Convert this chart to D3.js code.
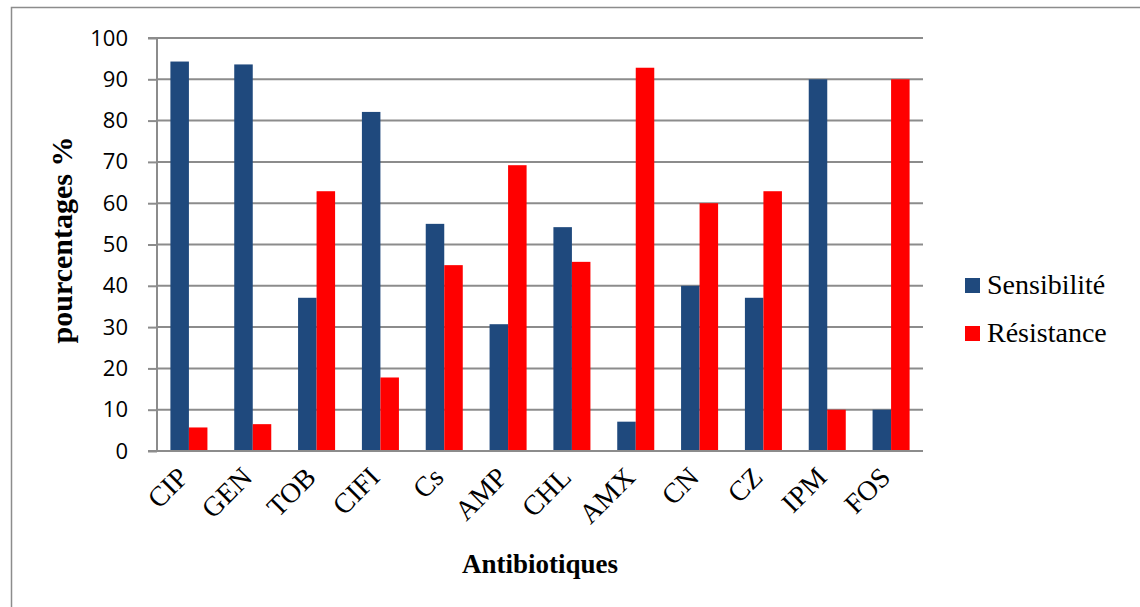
<!DOCTYPE html>
<html>
<head>
<meta charset="utf-8">
<script src="https://cdn.jsdelivr.net/npm/d3@7"></script>
<style>
  html, body { margin: 0; padding: 0; background: #fff; }
  svg { display: block; }
</style>
</head>
<body>
<svg id="chart" width="1140" height="607"></svg>
<script>
// Antibiotic susceptibility profile (% sensitive vs % resistant)
const categories = ["CIP", "GEN", "TOB", "CIFI", "Cs", "AMP", "CHL", "AMX", "CN", "CZ", "IPM", "FOS"];
const sensibilite = [94.3, 93.6, 37.1, 82.1, 55.0, 30.7, 54.2, 7.1, 40.0, 37.1, 90.0, 10.0];
const resistance  = [5.7, 6.5, 62.9, 17.8, 45.0, 69.2, 45.8, 92.8, 60.0, 62.9, 10.0, 90.0];
const seriesNames = ["Sensibilité", "Résistance"];
const seriesColors = ["#1F497D", "#FF0000"];
const yTicks = [0, 10, 20, 30, 40, 50, 60, 70, 80, 90, 100];

const svg = d3.select("#chart");
const W = 1140, H = 607;
const plot = { left: 157, right: 923, top: 38, bottom: 451 };
const gridColor = "#8c8c8c";
const serif = "'Liberation Serif', 'Times New Roman', serif";

svg.append("rect").attr("width", W).attr("height", H).attr("fill", "#fff");

// outer chart-area frame (runs off the right and bottom edges)
svg.append("rect")
  .attr("x", 11.5).attr("y", 7.5)
  .attr("width", W + 20).attr("height", H + 20)
  .attr("fill", "none").attr("stroke", "#8c8c8c").attr("stroke-width", 1.5);

const x0 = d3.scaleBand().domain(categories)
  .range([plot.left, plot.right]).paddingInner(0.42).paddingOuter(0.21);
const x1 = d3.scaleBand().domain(seriesNames).range([0, x0.bandwidth()]);
const y = d3.scaleLinear().domain([0, 100]).range([plot.bottom, plot.top]);

// horizontal gridlines
svg.append("g").selectAll("line").data(yTicks.filter(d => d > 0)).join("line")
  .attr("x1", plot.left).attr("x2", plot.right)
  .attr("y1", d => y(d)).attr("y2", d => y(d))
  .attr("stroke", gridColor).attr("stroke-width", 2);

// bars
const rows = categories.map((c, i) => ({ cat: c, vals: [sensibilite[i], resistance[i]] }));
const groups = svg.append("g").selectAll("g").data(rows).join("g")
  .attr("transform", d => `translate(${x0(d.cat)},0)`);
groups.selectAll("rect")
  .data(d => d.vals.map((v, k) => ({ name: seriesNames[k], v, k })))
  .join("rect")
  .attr("x", d => x1(d.name))
  .attr("width", x1.bandwidth())
  .attr("y", d => y(d.v))
  .attr("height", d => y(0) - y(d.v))
  .attr("fill", d => seriesColors[d.k]);

// y axis
const yAxis = d3.axisLeft(y).tickValues(yTicks).tickSize(9).tickPadding(20).tickFormat(d3.format("d"));
const gy = svg.append("g").attr("transform", `translate(${plot.left},0)`).call(yAxis);
gy.select(".domain").attr("stroke", gridColor).attr("stroke-width", 2).attr("d", `M-9,${plot.top}H0V${plot.bottom}`);
gy.selectAll(".tick line").attr("stroke", gridColor).attr("stroke-width", 2);
gy.selectAll(".tick text")
  .attr("font-family", "'Open Sans', Lato, sans-serif")
  .attr("font-size", 22).attr("fill", "#000");

// x axis baseline
svg.append("line")
  .attr("x1", plot.left - 9).attr("x2", plot.right)
  .attr("y1", plot.bottom).attr("y2", plot.bottom)
  .attr("stroke", gridColor).attr("stroke-width", 2);

// rotated category labels
svg.append("g").selectAll("text").data(categories).join("text")
  .attr("transform", d => `translate(${x0(d) + x0.bandwidth() / 2 + 1},${plot.bottom + 28}) rotate(-45)`)
  .attr("text-anchor", "end")
  .attr("font-family", serif)
  .attr("font-size", 28)
  .text(d => d);

// axis titles
svg.append("text")
  .attr("x", (plot.left + plot.right) / 2).attr("y", 573)
  .attr("text-anchor", "middle")
  .attr("font-family", serif)
  .attr("font-weight", "bold").attr("font-size", 27)
  .text("Antibiotiques");

svg.append("text")
  .attr("transform", "translate(72,240) rotate(-90)")
  .attr("text-anchor", "middle")
  .attr("font-family", serif)
  .attr("font-weight", "bold").attr("font-size", 30)
  .text("pourcentages %");

// legend
const legend = svg.append("g").selectAll("g").data(seriesNames).join("g")
  .attr("transform", (d, i) => `translate(965,${278 + i * 48})`);
legend.append("rect").attr("width", 15).attr("height", 15)
  .attr("fill", (d, i) => seriesColors[i]);
legend.append("text")
  .attr("x", 22).attr("y", 16)
  .attr("font-family", serif)
  .attr("font-size", 28)
  .text(d => d);
</script>
</body>
</html>
